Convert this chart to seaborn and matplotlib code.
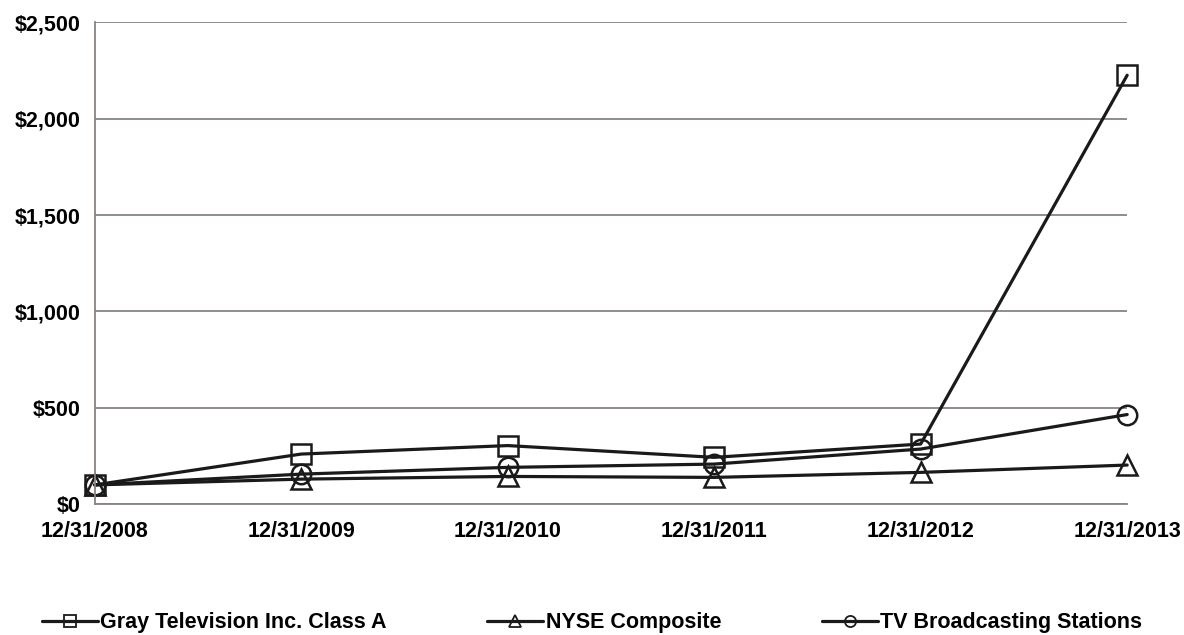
import seaborn as sns
import pandas as pd
import matplotlib.pyplot as plt

# data
dates = ["12/31/2008", "12/31/2009", "12/31/2010", "12/31/2011", "12/31/2012", "12/31/2013"]
gray_tv = [100, 260, 304, 243, 312, 2225]
nyse = [100, 130, 144, 139, 165, 203]
tv_stations = [100, 156, 191, 208, 286, 465]

series = ["Gray Television Inc. Class A", "NYSE Composite", "TV Broadcasting Stations"]

df = pd.DataFrame({
    "pos": list(range(len(dates))) * 3,
    "value": gray_tv + nyse + tv_stations,
    "series": [series[0]] * 6 + [series[1]] * 6 + [series[2]] * 6,
})

sns.set_theme(style="white")
plt.rcParams["font.family"] = ["Liberation Sans", "DejaVu Sans"]
plt.rcParams["font.weight"] = "bold"
plt.rcParams["text.color"] = "black"
fs = 15.5

fig, ax = plt.subplots(figsize=(11.84, 6.35), dpi=100)
fig.subplots_adjust(left=0.080, right=0.952, top=0.965, bottom=0.206)

sns.lineplot(data=df, x="pos", y="value", style="series", hue="series",
             palette=["#1a1a1a"] * 3,
             markers={series[0]: "s", series[1]: "^", series[2]: "o"},
             dashes=False, linewidth=2.3, markersize=14,
             markerfacecolor="none", markeredgecolor="#1a1a1a",
             markeredgewidth=1.8, ax=ax)
for ln in ax.lines:
    ln.set_clip_on(False)

ax.set_xlim(0, 5)
ax.set_ylim(0, 2500)
ax.set_xticks(range(len(dates)))
ax.set_xticklabels(dates, fontsize=fs, fontweight="bold")
ax.set_yticks(range(0, 2501, 500))
ax.set_yticklabels(["$0", "$500", "$1,000", "$1,500", "$2,000", "$2,500"],
                   fontsize=fs, fontweight="bold")
ax.set_xlabel("")
ax.set_ylabel("")

ax.yaxis.grid(True, color="#8a827e", linewidth=1.3)
ax.set_axisbelow(True)
for s in ["top", "right"]:
    ax.spines[s].set_visible(False)
for s in ["left", "bottom"]:
    ax.spines[s].set_color("#8a827e")
    ax.spines[s].set_linewidth(1.3)
ax.tick_params(axis="both", which="both", direction="out", length=6,
               color="#8a827e", width=1.2, labelcolor="black")
ax.tick_params(axis="x", pad=6)
ax.tick_params(axis="y", pad=4)

handles, labels = ax.get_legend_handles_labels()
ax.get_legend().remove()
for h in handles:
    h.set_markeredgecolor("#1a1a1a")
    h.set_markerfacecolor("none")
    h.set_markersize(8)
    h.set_markeredgewidth(1.3)
leg = fig.legend(handles, labels, loc="lower center", bbox_to_anchor=(0.5, -0.028),
                 ncol=3, frameon=False, handlelength=2.6,
                 handletextpad=0.1, columnspacing=4.7,
                 prop={"size": fs, "weight": "bold"})
for t in leg.get_texts():
    t.set_color("black")

fig.savefig("out.png", dpi=100)
